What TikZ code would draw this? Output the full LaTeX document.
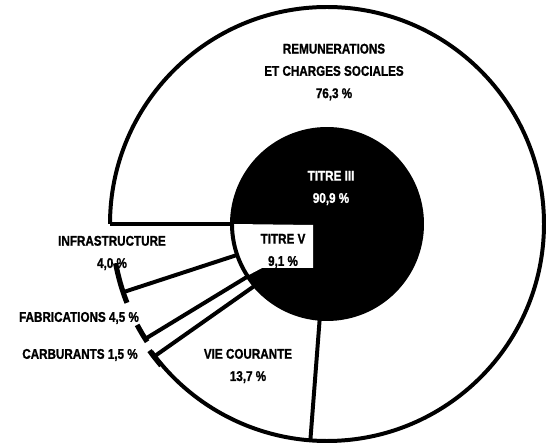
\documentclass[tikz,border=0pt]{standalone}
\usepackage{fontspec}
\newfontfamily\chartfont{Liberation Sans Bold}[FakeStretch=0.83, FakeBold=1.2]
\usetikzlibrary{calc}
\tikzstyle{rim} = [line width=3.4pt]
\tikzstyle{tbar} = [line width=4.4pt]
\tikzstyle{lbl} = [font=\chartfont\fontsize{12}{19}\selectfont, align=center, inner sep=0pt]

\begin{document}
\begin{tikzpicture}[x=0.03cm, y=0.03cm]
    \useasboundingbox (0,0) rectangle (547,446);
    \coordinate (c) at (327,222);

    % Inner disc (Titre III black, Titre V white)
    \fill[black] (c) circle[radius=95];
    \fill[white] ($(c)+(213:95)$) arc[start angle=213, end angle=180, radius=95]
        -- (313,221) -- (313,178) -- (262,178) -- cycle;
    \draw[rim] (c) circle[radius=95];

    % Outer ring
    \draw[rim] ($(c)+(180:217)$) arc[start angle=180, end angle=-144, radius=217];
    \coordinate (remIn) at ($(c)+(180:95)$);
    \coordinate (remOut) at ($(c)+(180:217)$);
    \coordinate (vieIn) at ($(c)+(265.6:95)$);
    \coordinate (vieOut) at ($(c)+(265.6:217)$);
    \draw[rim] (remIn) -- (remOut);
    \draw[rim] (vieIn) -- (vieOut);

    % Titre V leaders
    \coordinate (infIn) at ($(c)+(199:95)$);
    \coordinate (infOut) at ($(c)+(198.5:214)$);
    \coordinate (fabIn) at ($(c)+(213.5:95)$);
    \coordinate (fabOut) at ($(c)+(212.3:214)$);
    \coordinate (carIn) at ($(c)+(220.5:95)$);
    \coordinate (carOut) at ($(c)+(217.5:216)$);
    \draw[rim] (infIn) -- (infOut);
    \draw[rim] (fabIn) -- (fabOut);
    \draw[rim] (carIn) -- (carOut);
    \draw[tbar] ($(c)+(190.5:215)$) arc[start angle=190.5, end angle=201.5, radius=215];
    \draw[tbar] ($(c)+(208:215)$) arc[start angle=208, end angle=213.2, radius=215];
    \draw[tbar] ($(c)+(215.5:218)$) arc[start angle=215.5, end angle=220.5, radius=218];

    % Labels
    \node[lbl] (rem) at (334,374) {REMUNERATIONS\\ET CHARGES SOCIALES\\76,3 \%};
    \node[lbl, text=white] (t3) at (331,258) {TITRE III\\90,9 \%};
    \node[lbl] (t5) at (283,195) {TITRE V\\9,1 \%};
    \node[lbl] (inf) at (112,193) {INFRASTRUCTURE\\4,0 \%};
    \node[lbl] (fab) at (79,128) {FABRICATIONS 4,5 \%};
    \node[lbl] (car) at (80,91) {CARBURANTS 1,5 \%};
    \node[lbl] (vie) at (248,80) {VIE COURANTE\\13,7 \%};
\end{tikzpicture}
\end{document}
